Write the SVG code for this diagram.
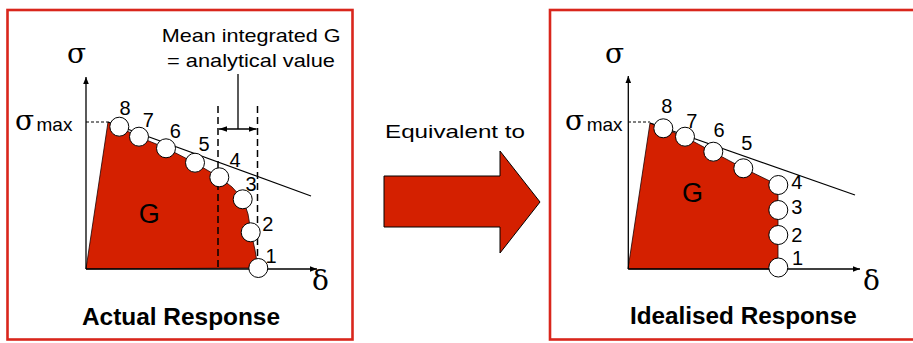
<svg xmlns="http://www.w3.org/2000/svg" width="913" height="343" viewBox="0 0 913 343">
<style>
.frame{fill:#fff;stroke:#d9261c;stroke-width:2.6}
.ax{stroke:#000;stroke-width:1.3;fill:none}
.area{fill:#d42000;stroke:#1a0000;stroke-width:0.8}
.tan{stroke:#000;stroke-width:1.2;fill:none}
.pt{fill:#fff;stroke:#000;stroke-width:1}
.dash{stroke:#000;stroke-width:1.5;stroke-dasharray:7,4;fill:none}
.thin{stroke:#000;stroke-width:1;stroke-dasharray:3,2;fill:none}
.num{font-family:"Liberation Sans",Arial,sans-serif;font-size:20px;fill:#000;text-anchor:middle}
.sym{font-family:"DejaVu Serif","Liberation Serif",serif;font-size:28px;fill:#000}
.lbl{font-family:"Liberation Sans",Arial,sans-serif;font-size:19px;fill:#000}
.big{font-family:"Liberation Sans",Arial,sans-serif;font-size:27px;fill:#000;text-anchor:middle}
.title{font-family:"Liberation Sans",Arial,sans-serif;font-size:23px;font-weight:bold;fill:#000}
</style>
<defs>
<marker id="ah" viewBox="0 0 10 10" refX="10" refY="5" markerWidth="7" markerHeight="7" markerUnits="userSpaceOnUse" orient="auto">
<path d="M0,1 L10,5 L0,9 z" fill="#000"/>
</marker>
<marker id="ah2" viewBox="0 0 10 10" refX="10" refY="5" markerWidth="8" markerHeight="8" markerUnits="userSpaceOnUse" orient="auto-start-reverse">
<path d="M0,1.5 L10,5 L0,8.5 z" fill="#000"/>
</marker>
</defs>

<g id="frame-actual">
<rect class="frame" x="7.5" y="10" width="345" height="329.5"/>
</g>
<g id="frame-idealised">
<rect class="frame" x="550" y="10" width="366" height="329.5"/>
</g>

<g id="actual-response">
<polygon class="area" points="86,269 108,122 119,127 139,137 166,148 195,163 219,177 232,187 243,199 248,214 251,232 255,250 258,268"/>
<line class="tan" x1="108" y1="122" x2="311" y2="196"/>
<line class="ax" x1="86" y1="269" x2="86" y2="77" marker-end="url(#ah)"/>
<line class="ax" x1="86" y1="269" x2="317" y2="269" marker-end="url(#ah)"/>
<line class="thin" x1="86" y1="122" x2="108" y2="122"/>
<line class="dash" x1="218" y1="106" x2="218" y2="268"/>
<line class="dash" x1="257.5" y1="106" x2="257.5" y2="258"/>
<circle class="pt" cx="119.3" cy="126.7" r="9.5"/>
<circle class="pt" cx="139" cy="136.7" r="9.5"/>
<circle class="pt" cx="166" cy="148.3" r="9.5"/>
<circle class="pt" cx="195" cy="162.7" r="9.5"/>
<circle class="pt" cx="219.3" cy="177.3" r="9.5"/>
<circle class="pt" cx="242.7" cy="199.3" r="9.5"/>
<circle class="pt" cx="250.7" cy="232.3" r="9.5"/>
<circle class="pt" cx="258.3" cy="268" r="9.5"/>
<text class="num" x="125" y="115">8</text>
<text class="num" x="148.3" y="127.3">7</text>
<text class="num" x="175.3" y="138.3">6</text>
<text class="num" x="204" y="150.7">5</text>
<text class="num" x="235" y="166.5">4</text>
<text class="num" x="251" y="190.5">3</text>
<text class="num" x="267.7" y="231">2</text>
<text class="num" x="271" y="263.3">1</text>
<text class="sym" x="67" y="63">σ</text>
<text class="sym" x="15" y="130" font-size="32">σ</text>
<text class="lbl" x="36.5" y="131">max</text>
<text class="sym" x="312" y="290" font-size="30">δ</text>
<text class="big" x="149.3" y="223.3">G</text>
<text class="lbl" x="161.7" y="42" textLength="179" lengthAdjust="spacingAndGlyphs">Mean integrated G</text>
<text class="lbl" x="167" y="67" textLength="168" lengthAdjust="spacingAndGlyphs">= analytical value</text>
<text class="title" x="82" y="325" textLength="198" lengthAdjust="spacingAndGlyphs">Actual Response</text>
</g>

<g id="connectors">
<line class="ax" x1="238" y1="74" x2="238" y2="129"/>
<line class="ax" x1="219" y1="129" x2="256.5" y2="129" marker-start="url(#ah2)" marker-end="url(#ah2)"/>
</g>

<g id="equivalent-arrow">
<polygon points="384,176 500,176 500,151 540,202 500,253 500,227 384,227" fill="#d42000" stroke="#000" stroke-width="1"/>
<text class="lbl" x="385" y="138" font-size="20" textLength="140" lengthAdjust="spacingAndGlyphs">Equivalent to</text>
</g>

<g id="idealised-response">
<polygon class="area" points="628,269 650,123 663,128 685,137 713,152 743,168 778,185 778,269"/>
<line class="tan" x1="650" y1="123" x2="855" y2="195"/>
<line class="ax" x1="628.3" y1="269" x2="628.3" y2="76" marker-end="url(#ah)"/>
<line class="ax" x1="628.3" y1="269" x2="860" y2="269" marker-end="url(#ah)"/>
<line class="thin" x1="628" y1="122" x2="650" y2="122"/>
<circle class="pt" cx="663.3" cy="128.3" r="9.5"/>
<circle class="pt" cx="685" cy="136.7" r="9.5"/>
<circle class="pt" cx="713.3" cy="151.7" r="9.5"/>
<circle class="pt" cx="743.3" cy="168.3" r="9.5"/>
<circle class="pt" cx="778.3" cy="185" r="9.5"/>
<circle class="pt" cx="778.3" cy="210" r="9.5"/>
<circle class="pt" cx="778.3" cy="235" r="9.5"/>
<circle class="pt" cx="778.3" cy="267.5" r="9.5"/>
<text class="num" x="666.7" y="113.3">8</text>
<text class="num" x="691.7" y="128.3">7</text>
<text class="num" x="719" y="136.7">6</text>
<text class="num" x="746.7" y="150">5</text>
<text class="num" x="796.7" y="189.3">4</text>
<text class="num" x="796.7" y="214">3</text>
<text class="num" x="796.7" y="241.7">2</text>
<text class="num" x="797.5" y="265">1</text>
<text class="sym" x="605" y="63.3">σ</text>
<text class="sym" x="565" y="130" font-size="32">σ</text>
<text class="lbl" x="586.7" y="131">max</text>
<text class="sym" x="863" y="290" font-size="30">δ</text>
<text class="big" x="692.5" y="201.7">G</text>
<text class="title" x="630" y="323.5" textLength="226.7" lengthAdjust="spacingAndGlyphs">Idealised Response</text>
</g>
</svg>
